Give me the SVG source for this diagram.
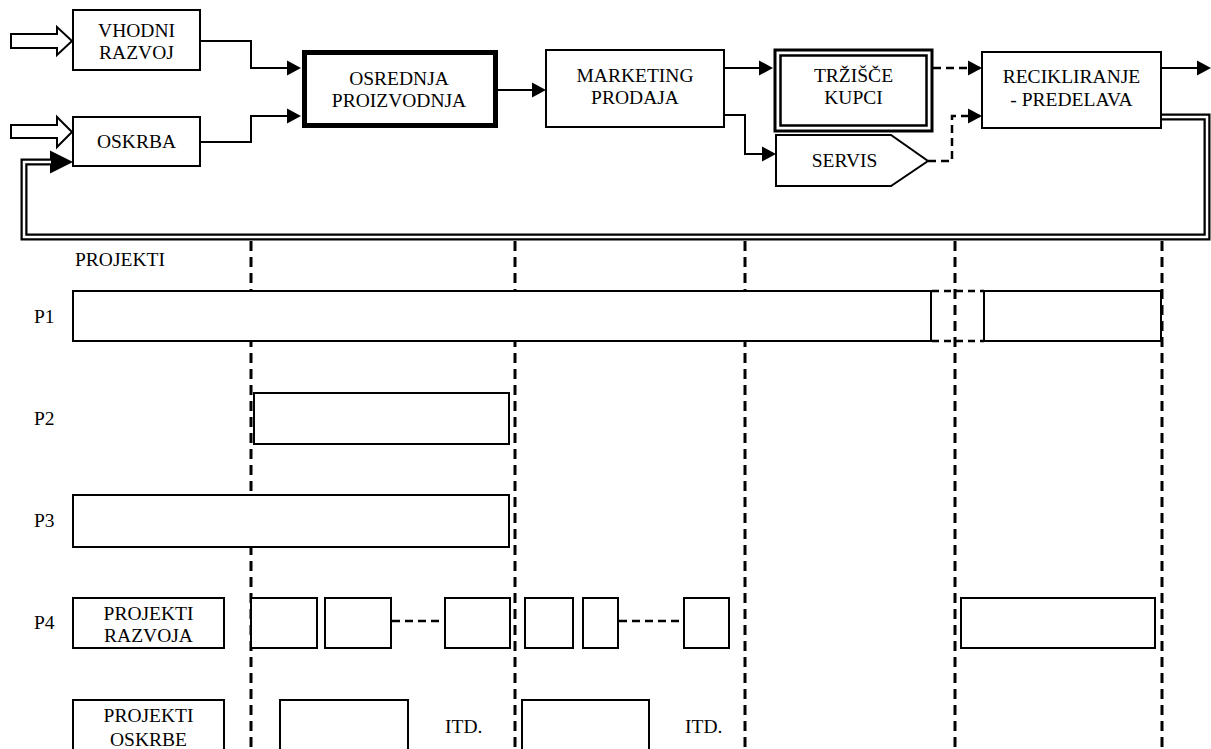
<svg xmlns="http://www.w3.org/2000/svg" width="1211" height="749" viewBox="0 0 1211 749" font-family="'Liberation Serif', 'DejaVu Serif', serif" font-size="19.5">
<defs>
<style>
text { font-family: 'Liberation Serif', 'DejaVu Serif', serif; font-size: 19.5px; fill: #000; }
.c { text-anchor: middle; }
.box { fill: #fff; stroke: #000; stroke-width: 2; }
.ln { fill: none; stroke: #000; stroke-width: 2; }
.dl { fill: none; stroke: #000; stroke-width: 2.5; stroke-dasharray: 8 5; }
.vd { fill: none; stroke: #000; stroke-width: 3; stroke-dasharray: 10 6; }
.hd { fill: none; stroke: #000; stroke-width: 2.5; stroke-dasharray: 7 5; }
</style>
<marker id="ah" markerUnits="userSpaceOnUse" markerWidth="15" markerHeight="16" refX="12" refY="8" orient="auto" viewBox="0 0 15 16" overflow="visible">
<path d="M0,0.5 L14,8 L0,15.5 z" fill="#000" stroke="none"/>
</marker>
<marker id="ahb" markerUnits="userSpaceOnUse" markerWidth="23" markerHeight="24" refX="4" refY="12" orient="auto" viewBox="0 0 23 24" overflow="visible">
<path d="M0,0.5 L23,12 L0,23.5 z" fill="#000" stroke="none"/>
</marker>
</defs>
<rect x="0" y="0" width="1211" height="749" fill="#fff"/>

<g id="grid">
<path class="vd" d="M251,241 V749"/>
<path class="vd" d="M515,241 V749"/>
<path class="vd" d="M745,241 V749"/>
<path class="vd" d="M955,241 V749"/>
<path class="vd" d="M1162,241 V749"/>
</g>

<g id="connectors">
<polygon class="box" points="11,34 57,34 57,27 72,41 57,55 57,48 11,48"/>
<polygon class="box" points="11,125 57,125 57,117 72,132 57,147 57,138 11,138"/>
<path class="ln" d="M200,41 H251 V68 H299" marker-end="url(#ah)"/>
<path class="ln" d="M200,142 H251 V116 H299" marker-end="url(#ah)"/>
<path class="ln" d="M498,90 H544" marker-end="url(#ah)"/>
<path class="ln" d="M724,68 H771" marker-end="url(#ah)"/>
<path class="ln" d="M724,115 H745 V154 H774" marker-end="url(#ah)"/>
<path class="dl" d="M933,68 H980" marker-end="url(#ah)"/>
<path class="dl" d="M928,161 H952 V116 H980" marker-end="url(#ah)"/>
<path class="ln" d="M1161,68 H1209" marker-end="url(#ah)"/>
<path fill="none" stroke="#000" stroke-width="7" d="M1161,117 H1207 V237 H24 V162 H54" marker-end="url(#ahb)"/>
<path fill="none" stroke="#fff" stroke-width="2.5" d="M1162,117 H1207 V237 H24 V162 H51"/>
</g>

<g id="vhodni">
<rect class="box" x="73" y="10" width="127" height="60"/>
<text class="c" x="136.5" y="37">VHODNI</text>
<text class="c" x="136.5" y="59">RAZVOJ</text>
</g>
<g id="oskrba">
<rect class="box" x="73" y="117" width="127" height="49"/>
<text class="c" x="136.5" y="148">OSKRBA</text>
</g>
<g id="osrednja">
<rect fill="#fff" stroke="#000" stroke-width="5" x="304.5" y="52.5" width="191" height="73"/>
<text class="c" x="399" y="85">OSREDNJA</text>
<text class="c" x="399" y="107">PROIZVODNJA</text>
</g>
<g id="marketing">
<rect class="box" x="546" y="50" width="178" height="77"/>
<text class="c" x="635" y="82">MARKETING</text>
<text class="c" x="635" y="104">PRODAJA</text>
</g>
<g id="trzisce">
<rect fill="#fff" stroke="#000" stroke-width="3" x="775" y="50" width="157" height="81"/>
<rect fill="none" stroke="#000" stroke-width="2.5" x="780.5" y="55.5" width="146" height="70"/>
<text class="c" x="853.5" y="82">TRŽIŠČE</text>
<text class="c" x="853.5" y="104">KUPCI</text>
</g>
<g id="servis">
<polygon class="box" points="776,135 891,135 928,161 891,186 776,186"/>
<text class="c" x="844.5" y="167">SERVIS</text>
</g>
<g id="recikliranje">
<rect class="box" x="982" y="52" width="179" height="76"/>
<text class="c" x="1071.5" y="83">RECIKLIRANJE</text>
<text class="c" x="1071.5" y="106">- PREDELAVA</text>
</g>

<g id="projekti">
<text x="75" y="266">PROJEKTI</text>
<text x="34" y="323">P1</text>
<text x="34" y="425">P2</text>
<text x="34" y="527">P3</text>
<text x="34" y="629">P4</text>
</g>

<g id="p1">
<rect class="box" x="73" y="291" width="858" height="50"/>
<path class="hd" d="M932,291 H984 M932,341 H984"/>
<rect class="box" x="984" y="291" width="177" height="50"/>
</g>
<g id="p2">
<rect class="box" x="254" y="393" width="255" height="51"/>
</g>
<g id="p3">
<rect class="box" x="73" y="495" width="436" height="52"/>
</g>
<g id="p4">
<rect class="box" x="73" y="598" width="151" height="50"/>
<text class="c" x="148.5" y="620">PROJEKTI</text>
<text class="c" x="148.5" y="642">RAZVOJA</text>
<rect class="box" x="251" y="598" width="66" height="50"/>
<rect class="box" x="325" y="598" width="66" height="50"/>
<path class="dl" d="M392,621 H444"/>
<rect class="box" x="445" y="598" width="65" height="50"/>
<rect class="box" x="525" y="598" width="48" height="50"/>
<rect class="box" x="583" y="598" width="35" height="50"/>
<path class="dl" d="M619,621 H684"/>
<rect class="box" x="684" y="598" width="45" height="50"/>
<rect class="box" x="961" y="598" width="194" height="50"/>
</g>
<g id="p5">
<rect class="box" x="73" y="700" width="151" height="70"/>
<text class="c" x="148.5" y="722">PROJEKTI</text>
<text class="c" x="148.5" y="746">OSKRBE</text>
<rect class="box" x="280" y="700" width="128" height="70"/>
<text x="445" y="733">ITD.</text>
<rect class="box" x="522" y="700" width="127" height="70"/>
<text x="685" y="733">ITD.</text>
</g>
</svg>
